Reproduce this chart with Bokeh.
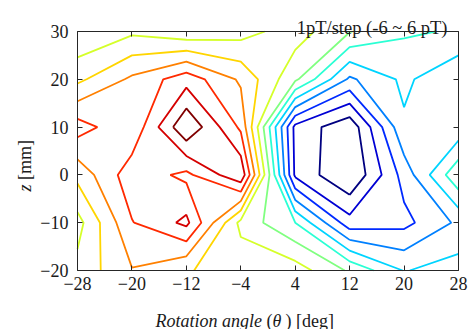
import numpy as np
from bokeh.plotting import figure
from bokeh.models import Range1d, LinearAxis, FixedTicker, Label
from bokeh.embed import file_html
from bokeh.resources import INLINE

# grid of measurement positions
x_deg = [-28, -20, -12, -4, 4, 12, 20, 28]
z_mm = [-20, -10, 0, 10, 20, 30]

# field values (pT) per row of z
row_zm20 = [1.30, 2.94, 2.05, 1.70, 1.50, -0.15, -2.05, -1.57]
row_zm10 = [0.63, 3.95, 5.25, 0.70, -1.00, -4.60, -4.30, -2.80]
row_z0 = [2.30, 4.60, 3.75, 5.80, -5.20, -7.00, -3.60, -0.20]
row_z10 = [4.46, 3.20, 6.90, 3.80, -5.30, -6.75, -2.15, -2.70]
row_z20 = [1.76, 3.19, 4.60, 2.83, 0.20, -3.18, -1.79, -2.90]
row_z30 = [0.10, 0.81, 0.25, 0.60, 1.50, 0.05, -0.865, -1.10]

levels = [-6, -5, -4, -3, -2, -1, 0, 1, 2, 3, 4, 5, 6]
x_ticks = [-28, -20, -12, -4, 4, 12, 20, 28]
z_ticks = [-20, -10, 0, 10, 20, 30]

Z = np.array([row_zm20, row_zm10, row_z0, row_z10, row_z20, row_z30])


def jet(t):
    r = min(max(1.5 - abs(4 * t - 3), 0), 1)
    g = min(max(1.5 - abs(4 * t - 2), 0), 1)
    b = min(max(1.5 - abs(4 * t - 1), 0), 1)
    return "#%02x%02x%02x" % (int(round(r * 255)), int(round(g * 255)), int(round(b * 255)))


lo, hi = min(levels), max(levels)
colors = [jet((l - lo) / (hi - lo)) for l in levels]

FONT = "Liberation Serif"
TXT = "#1a1a1a"
AX = "#262626"

# page layout: the plot box spans 77..458 px horizontally and 31..270 px vertically
W, H = 474, 329
BL, BR, BT, BB = 77, 458, 31, 270
x0, x1 = x_ticks[0], x_ticks[-1]
z0, z1 = z_ticks[0], z_ticks[-1]
sx = (BR - BL) / (x1 - x0)
sz = (BB - BT) / (z1 - z0)
xr = Range1d(x0 - BL / sx, x1 + (W - BR) / sx)
yr = Range1d(z0 - (H - BB) / sz, z1 + BT / sz)


def px_x(X):
    return x0 + (X - BL) / sx


def px_z(Y):
    return z1 - (Y - BT) / sz


p = figure(width=W, height=H, output_backend="svg", toolbar_location=None, title=None,
           x_range=xr, y_range=yr, x_axis_location=None, y_axis_location=None,
           min_border=0)
p.background_fill_color = "white"
p.border_fill_color = "white"
p.grid.visible = False
p.outline_line_color = None

p.contour(x=x_deg, y=z_mm, z=Z, levels=levels, line_color=colors, line_width=1.8)


def make_axis(ticks, loc, bounds, labels=True):
    ax = LinearAxis(fixed_location=loc, bounds=bounds, ticker=FixedTicker(ticks=ticks))
    ax.axis_line_color = AX
    ax.axis_line_width = 1
    ax.major_tick_line_color = AX
    ax.major_tick_in = 5
    ax.major_tick_out = 0
    ax.minor_tick_line_color = None
    ax.major_label_text_font = FONT
    ax.major_label_text_font_size = "18px"
    ax.major_label_text_color = TXT
    if not labels:
        ax.major_label_overrides = {t: "" for t in ticks}
        ax.major_label_standoff = 0
    return ax


bottom = make_axis(x_ticks, z0, (x0, x1))
bottom.major_label_standoff = 6
p.add_layout(bottom, "below")
left = make_axis(z_ticks, x0, (z0, z1))
left.major_label_standoff = 9
p.add_layout(left, "left")
p.add_layout(make_axis(x_ticks, z1, (x0, x1), labels=False), "above")
p.add_layout(make_axis(z_ticks, x1, (z0, z1), labels=False), "right")

lab_kw = dict(x_units="data", y_units="data", text_font=FONT, text_color=TXT,
              text_baseline="alphabetic")

# note at the top right
p.add_layout(Label(x=px_x(447), y=px_z(27), text="1pT/step (-6 ~ 6 pT)", text_align="right",
                   text_font_size="18.5px", **lab_kw))

# x-axis title (italic and upright pieces)
yb = px_z(320)
p.add_layout(Label(x=px_x(155), y=yb, text="Rotation angle", text_align="left",
                   text_font_style="italic", text_font_size="18px", **lab_kw))
p.add_layout(Label(x=px_x(266), y=yb, text="(", text_align="left", text_font_size="18px", **lab_kw))
p.add_layout(Label(x=px_x(272), y=yb, text="\u03b8", text_align="left",
                   text_font_style="italic", text_font_size="18px", **lab_kw))
p.add_layout(Label(x=px_x(285), y=yb, text=") [deg]", text_align="left", text_font_size="18px", **lab_kw))

# y-axis title
p.add_layout(Label(x=px_x(24), y=px_z(191), text="z", angle=np.pi / 2, text_align="left",
                   text_font_style="italic", text_font_size="18px", **lab_kw))
p.add_layout(Label(x=px_x(24), y=px_z(179.5), text="[mm]", angle=np.pi / 2, text_align="left",
                   text_font_size="18px", **lab_kw))

open("out.html", "w").write(file_html(p, INLINE))
